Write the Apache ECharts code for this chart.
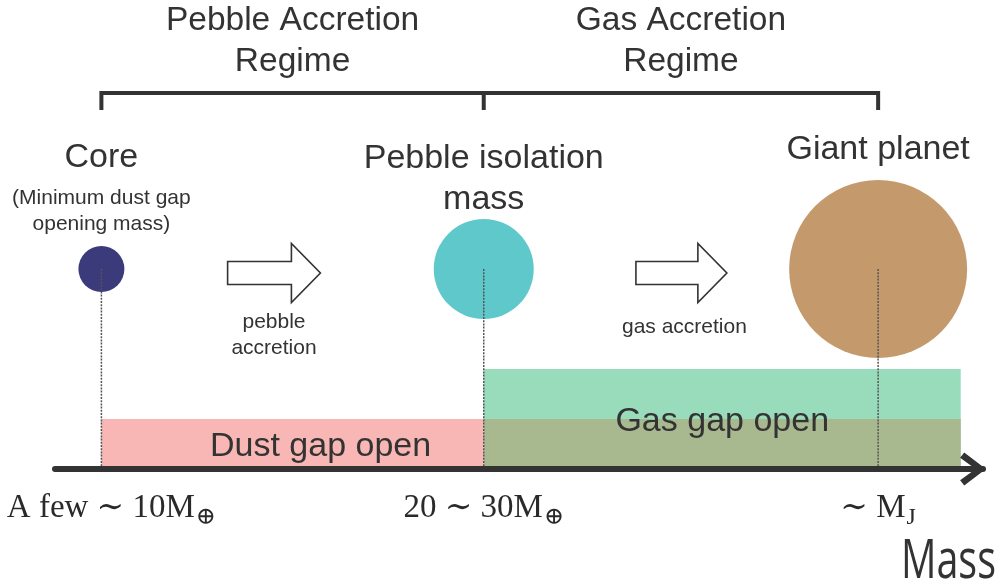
<!DOCTYPE html>
<html>
<head>
<meta charset="utf-8">
<script src="https://cdn.jsdelivr.net/npm/echarts@6/dist/echarts.min.js"></script>
<style>
  html, body { margin: 0; padding: 0; background: #ffffff; }
  #chart { width: 1003px; height: 585px; }
</style>
</head>
<body>
<div id="chart"></div>
<script>
// ---- data (schematic mass axis, 0..100) ----
const stageNames = ['Core', 'Pebble isolation\nmass', 'Giant planet'];
const stageNotes = ['(Minimum dust gap\nopening mass)', '', ''];
const stageMass = [5, 46.2, 88.7];
const planetSizes = [46, 100, 178];
const massTicks = [['A few ∼ 10M', '⊕'], ['20 ∼ 30M', '⊕'], ['∼ M', 'J']];
const regimeNames = ['Pebble Accretion\nRegime', 'Gas Accretion\nRegime'];
const processNames = ['pebble\naccretion', 'gas accretion'];
const processSpans = [[18.6, 28.6], [62.6, 72.4]];
const dustGapSpan = [5, 97.6];
const gasGapSpan = [46.2, 97.6];
const gapLabels = ['Dust gap open', 'Gas gap open'];

// ---- styles ----
const TEXT = '#333333';
const SANS = '"Liberation Sans", Arial, Helvetica, sans-serif';
const SERIF = '"Liberation Serif", "DejaVu Serif", serif';
const planetColors = ['#3B3A7B', '#5FC8CB', '#C49A6C'];
const bandColors = { dust: '#F8B6B5', gas: '#98DCBC', both: '#A9B98F' };

const chart = echarts.init(document.getElementById('chart'), null, { renderer: 'canvas' });

function textItem(x, y, text, size, lineHeight, offset) {
  return {
    value: [x, y],
    label: {
      show: true, position: 'inside', formatter: text,
      fontSize: size, lineHeight: lineHeight, color: TEXT, opacity: 1,
      fontFamily: SANS, align: 'center', verticalAlign: 'middle',
      offset: offset || [0, 0]
    }
  };
}

const CIRCLE_Y = 40;
const annotations = [];
regimeNames.forEach((t, i) => annotations.push(textItem((stageMass[i] + stageMass[i + 1]) / 2, 85.5, t, 33.5, 41)));
const nameLevels = [62.2, 58.0, 63.9];
stageNames.forEach((t, i) => annotations.push(textItem(stageMass[i], nameLevels[i], t, 34, 41)));
stageNotes.forEach((t, i) => { if (t) annotations.push(textItem(stageMass[i], 51.6, t, 21, 26)); });
const processLevels = [26.85, 28.45];
processNames.forEach((t, i) => annotations.push(textItem((processSpans[i][0] + processSpans[i][1]) / 2, processLevels[i], t, 21, 26, [i === 1 ? 3 : 0, 0])));
annotations.push(textItem((dustGapSpan[0] + gasGapSpan[0]) / 2, 5, gapLabels[0], 34, 40, [28, 3]));
annotations.push(textItem((gasGapSpan[0] + gasGapSpan[1]) / 2, 10, gapLabels[1], 34, 40, [0, 3]));

const bandData = [
  [dustGapSpan[0], gasGapSpan[0], 10, 'dust'],
  [gasGapSpan[0], gasGapSpan[1], 20, 'gas'],
  [Math.max(dustGapSpan[0], gasGapSpan[0]), Math.min(dustGapSpan[1], gasGapSpan[1]), 10, 'both']
];

const bracketData = [
  [stageMass[0], 71.8], [stageMass[0], 75.2], [stageMass[1], 75.2], [stageMass[1], 71.8],
  [stageMass[1], 75.2], [stageMass[2], 75.2], [stageMass[2], 71.8]
];

const option = {
  animation: false,
  backgroundColor: '#ffffff',
  grid: { left: 55, right: 20, top: 0, bottom: 116, containLabel: false, outerBoundsMode: 'none' },
  xAxis: {
    type: 'value', min: 0, max: 100, z: 10,
    axisLine: {
      show: true,
      lineStyle: { color: '#333333', width: 6 },
      symbol: ['none', 'path://M16,0 L32,21 L27,25 L16,10 L5,25 L0,21 Z'],
      symbolSize: [33, 26],
      symbolOffset: [0, -10]
    },
    axisTick: { show: false },
    splitLine: { show: false },
    axisLabel: {
      show: true,
      customValues: stageMass,
      margin: 20,
      color: '#2a2a2a',
      formatter: function (v) {
        const i = stageMass.indexOf(v);
        if (i < 0) return '';
        return (i === 0 ? '{pad| }' : '') + '{m|' + massTicks[i][0] + '}{s|' + massTicks[i][1] + '}';
      },
      rich: {
        pad: { width: 20, lineHeight: 38, fontSize: 12 },
        m: { fontFamily: SERIF, fontSize: 33, lineHeight: 38, color: '#2a2a2a' },
        s: { fontFamily: SERIF, fontSize: 24, lineHeight: 16, padding: [20, 0, 0, 1], color: '#2a2a2a' }
      }
    }
  },
  yAxis: { type: 'value', min: 0, max: 93.8, show: false },
  graphic: [{
    type: 'text', x: 901, y: 563, scaleX: 0.73, silent: true,
    style: { text: 'Mass', fontSize: 54, fontFamily: '"Open Sans", "Noto Sans", sans-serif', fill: '#333333', align: 'left', verticalAlign: 'middle' }
  }],
  series: [
    {
      name: 'gaps', type: 'custom', z: 2, silent: true,
      data: bandData,
      renderItem: function (params, api) {
        const p0 = api.coord([api.value(0), api.value(2)]);
        const p1 = api.coord([api.value(1), 0]);
        return {
          type: 'rect',
          shape: { x: p0[0], y: p0[1], width: p1[0] - p0[0], height: p1[1] - p0[1] },
          style: { fill: bandColors[bandData[params.dataIndex][3]] }
        };
      }
    },
    {
      name: 'bracket', type: 'line', z: 3, silent: true, symbol: 'none',
      data: bracketData,
      lineStyle: { color: '#333333', width: 4, cap: 'butt', join: 'miter', opacity: 1 }
    },
    {
      name: 'planets', type: 'scatter', z: 4, silent: true,
      data: stageMass.map((m, i) => ({ value: [m, CIRCLE_Y], symbolSize: planetSizes[i], itemStyle: { color: planetColors[i], opacity: 1 } })),
      symbol: 'circle',
      itemStyle: { opacity: 1 }
    },
    {
      name: 'process arrows', type: 'custom', z: 5, silent: true,
      data: processSpans.map(s => [s[0], s[1]]),
      renderItem: function (params, api) {
        const a = api.coord([api.value(0), 39.2]);
        const b = api.coord([api.value(1), 39.2]);
        const yc = a[1], x0 = a[0], x1 = b[0], xh = x1 - 29;
        return {
          type: 'polygon',
          shape: { points: [[x0, yc - 11.5], [xh, yc - 11.5], [xh, yc - 29.5], [x1, yc], [xh, yc + 29.5], [xh, yc + 11.5], [x0, yc + 11.5]] },
          style: { fill: '#ffffff', stroke: '#333333', lineWidth: 1.6, lineJoin: 'miter' }
        };
      }
    }
  ].concat(stageMass.map((m, i) => ({
    name: 'drop ' + i, type: 'line', z: 6, silent: true, symbol: 'none',
    data: [[m, CIRCLE_Y], [m, 0]],
    lineStyle: { color: '#555555', width: 1.5, type: [2, 1.2], opacity: 1 }
  }))).concat([{
    name: 'annotations', type: 'scatter', z: 20, silent: true,
    symbolSize: 0, itemStyle: { color: '#ffffff', opacity: 1 },
    data: annotations
  }])
};

chart.setOption(option);
</script>
</body>
</html>
